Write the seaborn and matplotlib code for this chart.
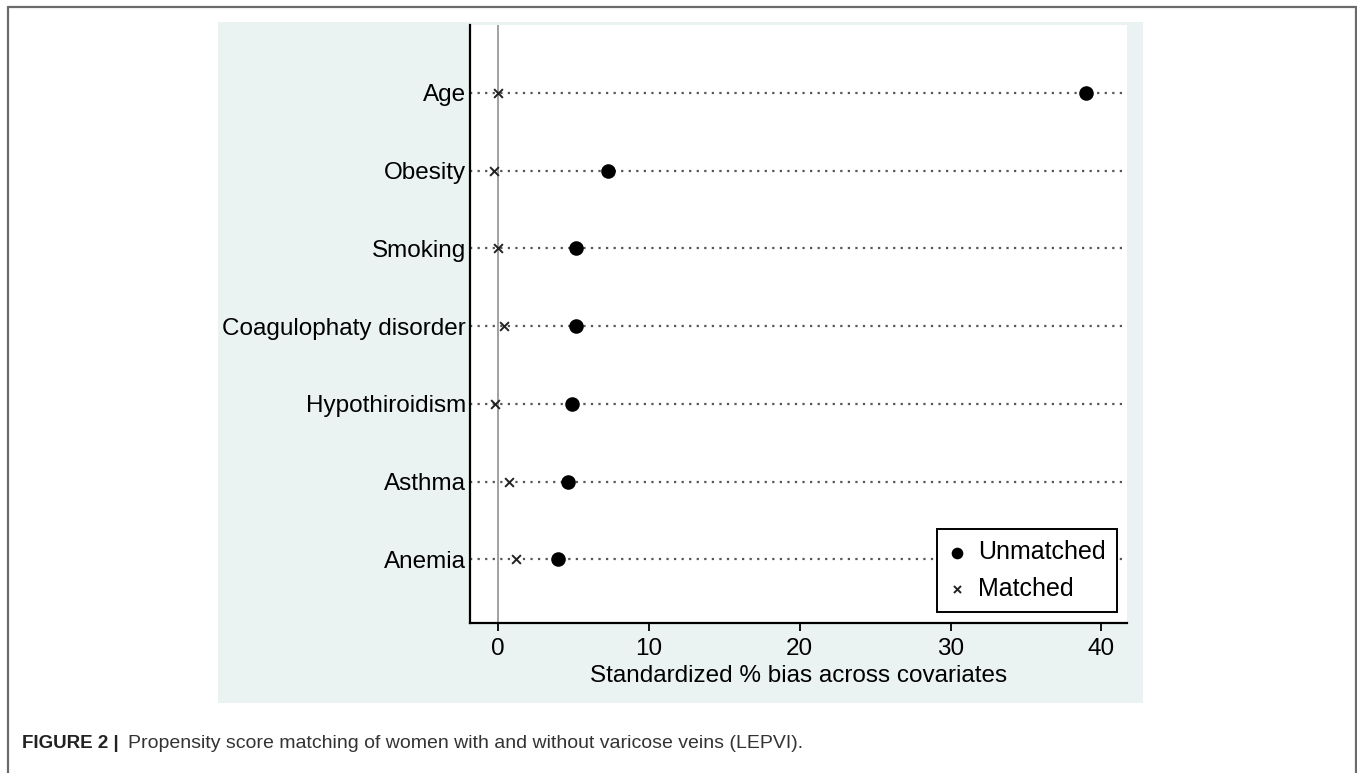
import matplotlib
matplotlib.use("Agg")
import matplotlib.pyplot as plt
import seaborn as sns
import pandas as pd
import numpy as np
from matplotlib.patches import Rectangle
from matplotlib.lines import Line2D

covariates = ["Age", "Obesity", "Smoking", "Coagulophaty disorder",
              "Hypothiroidism", "Asthma", "Anemia"]
unmatched = [39.0, 7.3, 5.2, 5.2, 4.9, 4.65, 4.0]
matched = [0.0, -0.3, 0.0, 0.4, -0.2, 0.75, 1.2]
xticks = [0, 10, 20, 30, 40]
xlabel = "Standardized % bias across covariates"
caption_bold = "FIGURE 2 |"
caption_text = "Propensity score matching of women with and without varicose veins (LEPVI)."

sns.set_style("white")
plt.rcParams["font.family"] = ["Liberation Sans", "DejaVu Sans"]
for k in ["text.color", "axes.labelcolor", "xtick.color", "ytick.color"]:
    plt.rcParams[k] = "black"

W, H = 1357, 773
fig = plt.figure(figsize=(W / 100, H / 100), dpi=100)
fig.patch.set_facecolor("white")

# Stata-like graph region panel
fig.add_artist(Rectangle((218 / W, 1 - 703 / H), (1143 - 218) / W, (703 - 22) / H,
                         transform=fig.transFigure, facecolor="#eaf2f2",
                         edgecolor="none", zorder=0))
# outer frame (open at bottom)
fc = "#6b6b6b"
fig.add_artist(Line2D([7.5 / W, 7.5 / W], [0, 1 - 6.5 / H], transform=fig.transFigure, color=fc, lw=1.6))
fig.add_artist(Line2D([1355.5 / W, 1355.5 / W], [0, 1 - 6.5 / H], transform=fig.transFigure, color=fc, lw=1.6))
fig.add_artist(Line2D([7.5 / W, 1355.5 / W], [1 - 6.5 / H, 1 - 6.5 / H], transform=fig.transFigure, color=fc, lw=1.6))

ax = fig.add_axes([470 / W, 1 - 623 / H, (1127 - 470) / W, (623 - 25) / H])
ax.set_facecolor("white")

df_u = pd.DataFrame({"covariate": covariates, "bias": unmatched})
df_m = pd.DataFrame({"covariate": covariates, "bias": matched})

xmin, xmax = -1.86, 41.7
ax.hlines(covariates, xmin, xmax, colors="#555555", linewidth=1.6,
          linestyles=(0, (1, 2.4)), zorder=1)
ax.axvline(0, color="#9a9a9a", lw=1.3, zorder=1)

sns.scatterplot(data=df_u, x="bias", y="covariate", ax=ax, marker="o", s=110,
                color="black", edgecolor="black", linewidth=0, label="Unmatched", zorder=3)
sns.scatterplot(data=df_m, x="bias", y="covariate", ax=ax, marker="x", s=40,
                color="#222222", linewidth=1.4, label="Matched", zorder=3)

ax.set_xlim(xmin, xmax)
ax.set_ylim(6.82, -0.875)
ax.set_xticks(xticks)
ax.set_xticklabels([str(t) for t in xticks])
ax.set_xlabel(xlabel, fontsize=17.5, labelpad=3.5, color="black")
ax.set_ylabel("")

for s in ["top", "right"]:
    ax.spines[s].set_visible(False)
for s in ["left", "bottom"]:
    ax.spines[s].set_color("black")
    ax.spines[s].set_linewidth(1.6)
ax.tick_params(axis="x", which="both", bottom=True, length=6, width=1.3,
               direction="out", color="black", labelcolor="black", labelsize=17.5, pad=5)
ax.tick_params(axis="y", which="both", left=False, length=0, labelcolor="black",
               labelsize=17.5, pad=3)

leg = ax.legend(loc="lower right", bbox_to_anchor=(0.985, 0.018), frameon=True,
                fancybox=False, edgecolor="black", fontsize=18, handlelength=0.7,
                handletextpad=0.5, labelspacing=0.5, borderpad=0.45, borderaxespad=0,
                markerscale=0.8, labelcolor="black")
leg.get_frame().set_linewidth(1.4)
leg.get_frame().set_facecolor("white")
leg.get_frame().set_alpha(1)

# caption
t1 = fig.text(22 / W, 1 - 748 / H, caption_bold, fontsize=13.5, fontweight="bold",
              color="#222222", va="baseline", ha="left")
fig.canvas.draw()
bb = t1.get_window_extent()
fig.text((bb.x1 + 9) / W, 1 - 748 / H, caption_text, fontsize=14,
         color="#333333", va="baseline", ha="left")

fig.savefig("out.png", dpi=100)
